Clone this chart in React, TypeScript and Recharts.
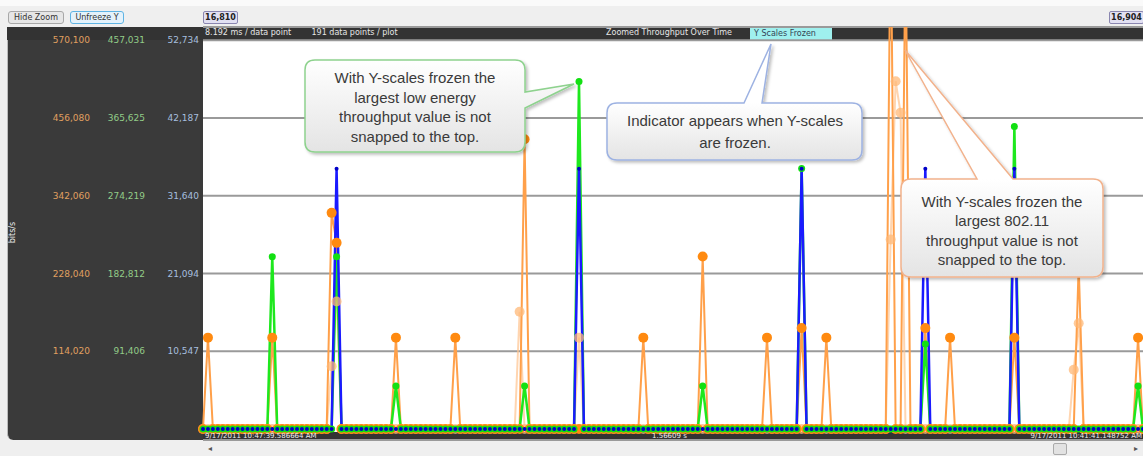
import React from 'react';
import { LineChart, Line, XAxis, YAxis, CartesianGrid } from 'recharts';

// 191 data points per plot; every point not listed below sits on 0
const POINT_COUNT = 191;

// [point index, bits/s]
const wifiPeaks: [number, number][] = [
  [1, 134000], [14, 134000], [26, 317000], [27, 273000], [39, 134000], [51, 134000],
  [65, 425000], [89, 134000], [101, 253000], [114, 134000], [121, 148000], [126, 134000],
  [139, 760000], [142, 720000], [146, 148000], [151, 134000], [164, 134000], [177, 240000],
  [189, 134000],
];
const wifiShadowPeaks: [number, number][] = [
  [26, 92000], [27, 187000], [64, 172000], [76, 134000], [139, 278000], [140, 510000],
  [141, 464000], [176, 87000], [177, 155000],
];
const lowEnergyPeaks: [number, number][] = [
  [14, 202600], [27, 202600], [39, 50600], [65, 50600], [76, 408700], [101, 50600],
  [121, 306300], [146, 100000], [164, 355700], [189, 50600],
];
const otherPeaks: [number, number][] = [
  [27, 35300], [76, 35300], [121, 35300], [146, 35300], [164, 35300],
];

const wifiTicks = [114020, 228040, 342060, 456080, 570100];
const lowEnergyTicks = [91406, 182812, 274219, 365625, 457031];
const otherTicks = [10547, 21094, 31640, 42187, 52734];

const pick = (peaks: [number, number][], i: number) => {
  const hit = peaks.find((p) => p[0] === i);
  return hit ? hit[1] : 0;
};

const rows = Array.from({ length: POINT_COUNT }, (_, i) => ({
  i,
  wifi: pick(wifiPeaks, i),
  shadow: pick(wifiShadowPeaks, i),
  le: pick(lowEnergyPeaks, i),
  other: pick(otherPeaks, i),
}));

// frozen scales: top tick sits 13.3px under the plot top, zero 11px over the bottom
const SPAN = 388.7;
const frozen = (top: number): [number, number] => [-(top * 11) / SPAN, (top * (SPAN + 13.3)) / SPAN];

const fmt = (v: number) => v.toLocaleString('en-US');
const ui = '"DejaVu Sans", sans-serif';
const bubbleFont = '"Liberation Sans", Arial, sans-serif';

const tick = (fill: string) => ({ fill, fontSize: 9, fontFamily: ui });

// left axes stack by id: a_ sits next to the plot, c_ is outermost
const AX_OTHER = 'a_other';
const AX_LE = 'b_le';
const AX_WIFI = 'c_wifi';

const Btn: React.FC<{ x: number; w: number; label: string; blue?: boolean }> = ({ x, w, label, blue }) => (
  <div
    style={{
      position: 'absolute', left: x, top: 11, width: w, height: 13, boxSizing: 'border-box',
      border: blue ? '1px solid #5fb4e4' : '1px solid #a8a8a8', borderRadius: 3,
      background: blue ? '#e4f2fb' : '#e6e6e6', fontSize: 8, lineHeight: '11px',
      textAlign: 'center', color: '#333', fontFamily: ui,
    }}
  >
    {label}
  </div>
);

const Tag: React.FC<{ x: number; label: string }> = ({ x, label }) => (
  <div
    style={{
      position: 'absolute', left: x, top: 11, width: 35, height: 13, boxSizing: 'border-box',
      border: '1px solid #8a86b0', borderRadius: 2, background: '#e2e0f2', fontSize: 8,
      lineHeight: '11px', textAlign: 'center', color: '#222', fontWeight: 'bold', fontFamily: ui,
    }}
  >
    {label}
  </div>
);

const App: React.FC = () => {
  return (
    <div style={{ position: 'absolute', left: 0, top: 0, width: 1143, height: 456, background: '#efefef', overflow: 'hidden', fontFamily: ui }}>
      <div style={{ position: 'absolute', left: 0, top: 0, width: 1143, height: 6, background: '#fafafa' }} />
      <Btn x={8} w={56} label="Hide Zoom" />
      <Btn x={70} w={54} label="Unfreeze Y" blue />
      <Tag x={203} label="16,810" />
      <Tag x={1109} label="16,904" />

      {/* dark frame, plot background and info bars */}
      <div style={{ position: 'absolute', left: 7, top: 27, width: 200, height: 413, background: '#3a3a3a', borderRadius: '0 0 0 6px', borderLeft: '1px solid #bbb' }} />
      <div style={{ position: 'absolute', left: 7, top: 27, width: 1136, height: 13, background: '#333' }} />
      <div style={{ position: 'absolute', left: 203, top: 40, width: 940, height: 392, background: '#fff' }} />
      <div style={{ position: 'absolute', left: 203, top: 432, width: 940, height: 8, background: '#333' }} />
      <div style={{ position: 'absolute', left: 205, top: 28, fontSize: 8, color: '#e6e6e6', whiteSpace: 'pre' }}>
        {'8.192 ms / data point        191 data points / plot'}
      </div>
      <div style={{ position: 'absolute', left: 606, top: 28, fontSize: 8, color: '#e6e6e6', whiteSpace: 'pre' }}>
        Zoomed Throughput Over Time
      </div>
      <div style={{ position: 'absolute', left: 750, top: 27, width: 82, height: 13, background: '#9ff0ee', fontSize: 8, lineHeight: '13px', color: '#345', paddingLeft: 4, boxSizing: 'border-box' }}>
        Y Scales Frozen
      </div>
      <div style={{ position: 'absolute', left: -8, top: 228, width: 40, transform: 'rotate(-90deg)', fontSize: 8, color: '#e8e8e8', textAlign: 'center' }}>
        bits/s
      </div>

      {/* scroll strip */}
      <div style={{ position: 'absolute', left: 208, top: 444, fontSize: 8, color: '#555' }}>◂</div>
      <div style={{ position: 'absolute', left: 1134, top: 444, fontSize: 8, color: '#555' }}>▸</div>
      <div style={{ position: 'absolute', left: 1053, top: 443, width: 14, height: 12, boxSizing: 'border-box', border: '1px solid #aaa', borderRadius: 2, background: '#e2e2e2' }} />

      <div style={{ position: 'absolute', left: 0, top: 0 }}>
        <LineChart width={1143} height={456} data={rows} margin={{ top: 27, right: 0, bottom: 16, left: 34 }}>
          <CartesianGrid yAxisId={AX_OTHER} vertical={false} stroke="#9a9a9a" strokeWidth={2} />
          <XAxis dataKey="i" type="number" domain={[0, POINT_COUNT - 1]} hide />
          <YAxis
            yAxisId={AX_OTHER} width={54} domain={frozen(52734)} allowDataOverflow ticks={otherTicks} interval={0}
            axisLine={false} tickLine={false} tickSize={0} tickMargin={4} tick={tick('#a6bfdf')} tickFormatter={fmt}
          />
          <YAxis
            yAxisId={AX_LE} width={55} domain={frozen(457031)} allowDataOverflow ticks={lowEnergyTicks} interval={0}
            axisLine={false} tickLine={false} tickSize={0} tickMargin={4} tick={tick('#92cc88')} tickFormatter={fmt}
          />
          <YAxis
            yAxisId={AX_WIFI} width={60} domain={frozen(570100)} allowDataOverflow ticks={wifiTicks} interval={0}
            axisLine={false} tickLine={false} tickSize={0} tickMargin={4} tick={tick('#e0a060')} tickFormatter={fmt}
          />
          <Line
            yAxisId={AX_WIFI} dataKey="shadow" type="linear" stroke="#ffc38f" strokeOpacity={0.7} strokeWidth={2}
            dot={{ r: 5, fill: '#ffb877', stroke: 'none', fillOpacity: 0.75 }} activeDot={false} isAnimationActive={false}
          />
          <Line
            yAxisId={AX_WIFI} dataKey="wifi" type="linear" stroke="#ffa04a" strokeWidth={2}
            dot={{ r: 5, fill: '#ff8a10', stroke: 'none' }} activeDot={false} isAnimationActive={false}
          />
          <Line
            yAxisId={AX_LE} dataKey="le" type="linear" stroke="#1ee81e" strokeWidth={2.5}
            dot={{ r: 3.5, fill: '#12e012', stroke: 'none' }} activeDot={false} isAnimationActive={false}
          />
          <Line
            yAxisId={AX_OTHER} dataKey="other" type="linear" stroke="#1a1aff" strokeWidth={2.5}
            dot={{ r: 2, fill: '#0000c8', stroke: 'none' }} activeDot={false} isAnimationActive={false}
          />
        </LineChart>
      </div>

      <div style={{ position: 'absolute', left: 205, top: 432, fontSize: 7, lineHeight: '8px', color: '#eee' }}>
        9/17/2011 10:47:39.586664 AM
      </div>
      <div style={{ position: 'absolute', left: 652, top: 432, fontSize: 7, lineHeight: '8px', color: '#eee' }}>
        1.56609 s
      </div>
      <div style={{ position: 'absolute', right: 1, top: 432, fontSize: 7, lineHeight: '8px', color: '#eee' }}>
        9/17/2011 10:41:41.148752 AM
      </div>

      {/* callouts */}
      <svg width={1143} height={456} style={{ position: 'absolute', left: 0, top: 0 }}>
        <defs>
          <linearGradient id="gG" gradientUnits="userSpaceOnUse" x1="0" y1="60" x2="0" y2="152">
            <stop offset="0" stopColor="#ffffff" />
            <stop offset="1" stopColor="#e4e4e4" />
          </linearGradient>
          <linearGradient id="gB" gradientUnits="userSpaceOnUse" x1="0" y1="103" x2="0" y2="160">
            <stop offset="0" stopColor="#ffffff" />
            <stop offset="1" stopColor="#e4e4e4" />
          </linearGradient>
          <linearGradient id="gO" gradientUnits="userSpaceOnUse" x1="0" y1="179" x2="0" y2="277">
            <stop offset="0" stopColor="#ffffff" />
            <stop offset="1" stopColor="#e4e4e4" />
          </linearGradient>
          <filter id="sh" x="-10%" y="-10%" width="130%" height="130%">
            <feDropShadow dx="2" dy="2" stdDeviation="1.5" floodColor="#000" floodOpacity="0.25" />
          </filter>
        </defs>
        <path
          d="M315,60 H515 Q525,60 525,70 V92 L574,84 L525,108 V142 Q525,152 515,152 H315 Q305,152 305,142 V70 Q305,60 315,60 Z"
          fill="url(#gG)" stroke="#8ed28e" strokeWidth={1.5} filter="url(#sh)"
        />
        <path
          d="M617,103 H744 L771,44 L762,103 H852 Q862,103 862,113 V150 Q862,160 852,160 H617 Q607,160 607,150 V113 Q607,103 617,103 Z"
          fill="url(#gB)" stroke="#9db2e2" strokeWidth={1.5} filter="url(#sh)"
        />
        <path
          d="M911,179 H977 L905,50 L1013,179 H1093 Q1103,179 1103,189 V267 Q1103,277 1093,277 H911 Q901,277 901,267 V189 Q901,179 911,179 Z"
          fill="url(#gO)" stroke="#f2b28c" strokeWidth={1.5} filter="url(#sh)"
        />
        <text x={415} textAnchor="middle" fontFamily={bubbleFont} fontSize={15} fill="#3a3a3a">
          <tspan x={415} y={83}>With Y-scales frozen the</tspan>
          <tspan x={415} y={103}>largest low energy</tspan>
          <tspan x={415} y={122}>throughput value is not</tspan>
          <tspan x={415} y={142}>snapped to the top.</tspan>
        </text>
        <text x={735} textAnchor="middle" fontFamily={bubbleFont} fontSize={15} fill="#3a3a3a">
          <tspan x={735} y={126}>Indicator appears when Y-scales</tspan>
          <tspan x={735} y={148}>are frozen.</tspan>
        </text>
        <text x={1002} textAnchor="middle" fontFamily={bubbleFont} fontSize={15} fill="#3a3a3a">
          <tspan x={1002} y={207}>With Y-scales frozen the</tspan>
          <tspan x={1002} y={226}>largest 802.11</tspan>
          <tspan x={1002} y={246}>throughput value is not</tspan>
          <tspan x={1002} y={265}>snapped to the top.</tspan>
        </text>
      </svg>
    </div>
  );
};

export default App;
